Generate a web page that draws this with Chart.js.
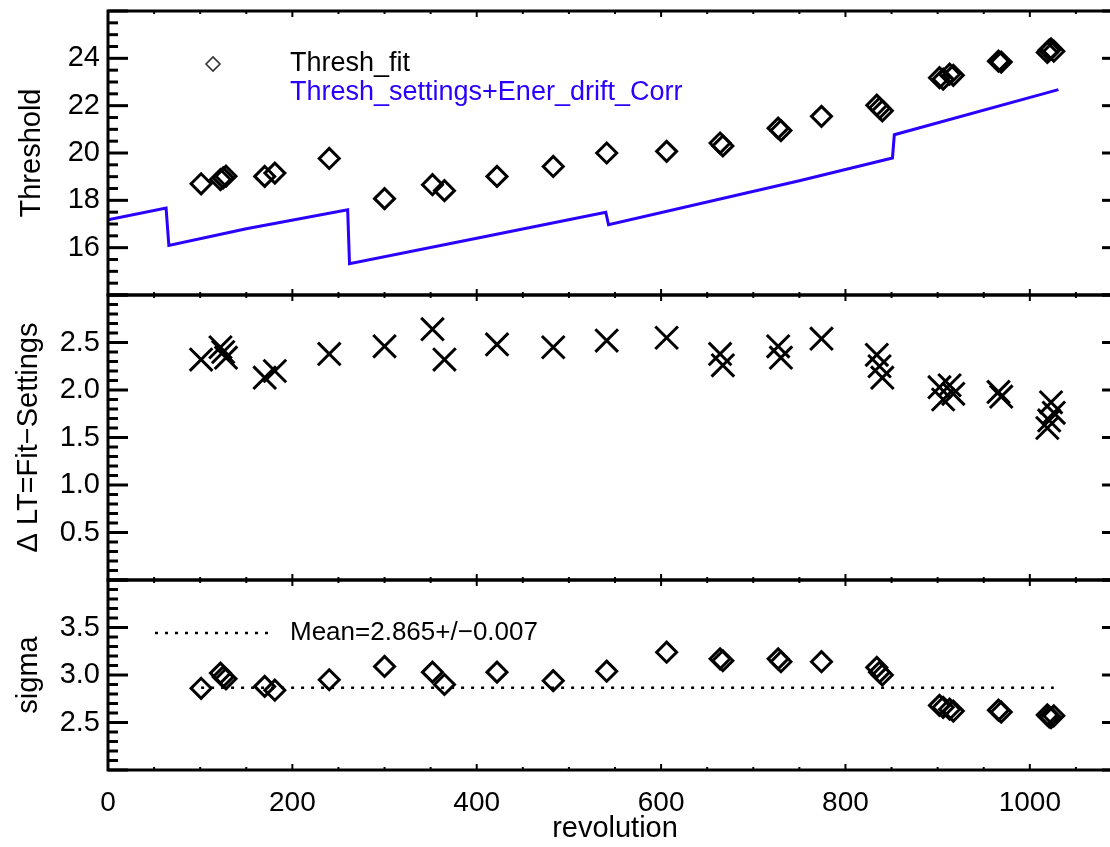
<!DOCTYPE html>
<html><head><meta charset="utf-8">
<script src="https://cdn.jsdelivr.net/npm/chart.js@4/dist/chart.umd.min.js"></script>
<style>
html,body{margin:0;padding:0;background:#fff;overflow:hidden;width:1110px;height:847px}
canvas{position:absolute;left:0}
</style></head><body>
<canvas id="c1" width="1130" height="300" style="top:0px"></canvas>
<canvas id="c2" width="1130" height="300" style="top:290px"></canvas>
<canvas id="c3" width="1130" height="272" style="top:575px"></canvas>
<script>
// ---- data ----
const revolution = [101,122,125,128,170,181,240,300,352,365,422,483,541,606,664,667,727,730,774,834,837,840,902,906,913,917,966,969,1019,1021,1023,1026];
const threshFit  = [18.70,18.88,18.95,19.02,19.01,19.15,19.77,18.07,18.66,18.41,19.01,19.43,20.00,20.07,20.42,20.30,21.05,20.95,21.55,22.02,21.90,21.78,23.18,23.12,23.33,23.28,23.88,23.84,24.25,24.35,24.40,24.30];
const deltaLT    = [2.32,2.45,2.40,2.34,2.13,2.20,2.38,2.46,2.64,2.32,2.48,2.45,2.52,2.55,2.38,2.26,2.46,2.34,2.54,2.37,2.25,2.13,2.03,1.90,2.05,1.96,1.98,1.93,1.60,1.68,1.87,1.76];
const sigmaVals  = [2.86,3.02,2.98,2.96,2.88,2.84,2.95,3.09,3.03,2.90,3.03,2.94,3.04,3.24,3.17,3.15,3.17,3.14,3.14,3.08,3.03,3.00,2.68,2.66,2.64,2.62,2.63,2.61,2.58,2.56,2.55,2.57];
const settingsRev    = [0,63,66,150,260,262,400,540,543,750,851,853,1031];
const settingsThresh = [17.18,17.67,16.09,16.80,17.60,15.32,16.40,17.50,16.97,18.83,19.79,20.77,22.68];
const sigmaMean = 2.865;
const sigmaMeanErr = 0.007;
const xTicks = [0,200,400,600,800,1000];
const thresholdTicks = [16,18,20,22,24];
const deltaTicks = [0.5,1.0,1.5,2.0,2.5];
const sigmaTicks = [2.5,3.0,3.5];
const legendLabels = ['Thresh_fit','Thresh_settings+Ener_drift_Corr'];
const meanLabel = 'Mean=' + sigmaMean.toFixed(3) + '+/\u2212' + sigmaMeanErr.toFixed(3);

const FONT = "'Liberation Sans', Arial, Helvetica, sans-serif";
const BLUE = '#2a00ff';
Chart.defaults.font.family = FONT;
Chart.defaults.color = '#000';

const pts = (xs, ys) => xs.map((x, i) => ({x, y: ys[i]}));

// frame + inward ticks plugin
const framePlugin = {
  id: 'frame',
  afterDatasetsDraw(chart, args, o) {
    const {ctx, chartArea: a, scales: {x, y}} = chart;
    ctx.save();
    ctx.strokeStyle = '#000';
    ctx.lineCap = 'butt';
    const seg = (x1, y1, x2, y2) => { ctx.beginPath(); ctx.moveTo(x1, y1); ctx.lineTo(x2, y2); ctx.stroke(); };
    ctx.lineWidth = 3;
    const yMinorN = Math.round((y.max - y.min) / o.yMinor);
    for (let i = 0; i <= yMinorN; i++) {
      const v = y.min + i * o.yMinor;
      const isMajor = Math.abs(v / o.yMajor - Math.round(v / o.yMajor)) < 1e-6;
      const len = isMajor ? 20 : 10;
      const p = y.getPixelForValue(v);
      seg(a.left, p, a.left + len, p);
      seg(a.right, p, a.right - len, p);
    }
    ctx.lineWidth = 2;
    const xMinorN = Math.round((x.max - x.min) / 50);
    for (let i = 0; i <= xMinorN; i++) {
      const v = x.min + i * 50;
      const len = (v % 200 === 0) ? 6 : 3;
      const p = x.getPixelForValue(v);
      seg(p, a.top, p, a.top + len);
      seg(p, a.bottom, p, a.bottom - len);
    }
    ctx.lineWidth = 3;
    ctx.strokeRect(a.left, a.top, a.right - a.left, a.bottom - a.top);
    ctx.restore();
  }
};

const legendPlugin = {
  id: 'customLegend',
  afterDraw(chart, args, o) {
    if (!o.items) return;
    const ctx = chart.ctx;
    ctx.save();
    o.items.forEach(it => {
      if (it.marker === 'diamond') {
        ctx.strokeStyle = '#333'; ctx.fillStyle = 'rgba(0,0,0,0)'; ctx.lineWidth = 1.6;
        Chart.helpers.drawPoint(ctx, {pointStyle: 'rectRot', radius: 7, borderWidth: 1.6}, it.mx, it.y);
      } else if (it.marker === 'dots') {
        ctx.strokeStyle = '#000'; ctx.lineWidth = 2.5; ctx.setLineDash([3, 7]);
        ctx.beginPath(); ctx.moveTo(it.mx, it.y); ctx.lineTo(it.mx2, it.y); ctx.stroke();
        ctx.setLineDash([]);
      }
      ctx.fillStyle = it.color;
      ctx.font = it.size + 'px ' + FONT;
      ctx.textBaseline = 'middle';
      ctx.textAlign = 'left';
      ctx.fillText(it.text, it.tx, it.y);
    });
    ctx.restore();
  }
};

function yAxis(min, max, ticksArr, title, fmt, titlePad, titleSize) {
  return {
    type: 'linear', min, max, position: 'left',
    afterBuildTicks: s => { s.ticks = ticksArr.map(v => ({value: v})); },
    afterFit: s => { s.width = 108; s.paddingTop = 0; s.paddingBottom = 0; },
    grid: {display: false, drawTicks: false},
    border: {display: false},
    ticks: {padding: 8, font: {size: 29}, color: '#000', callback: fmt},
    title: {display: true, text: title, font: {size: titleSize}, color: '#000', padding: {top: titlePad, bottom: 0}}
  };
}

function xAxis(show) {
  return {
    type: 'linear', min: 0, max: 1100, position: 'bottom', display: show,
    afterBuildTicks: s => { s.ticks = xTicks.map(v => ({value: v})); },
    afterFit: s => { if (show) s.height = 77; s.paddingLeft = 0; s.paddingRight = 0; },
    grid: {display: false, drawTicks: false},
    border: {display: false},
    ticks: {padding: 16, font: {size: 28}, color: '#000', maxRotation: 0, autoSkip: false, callback: v => String(v)},
    title: {display: show, text: 'revolution', font: {size: 29}, color: '#000', padding: {top: 0, bottom: 1}}
  };
}

function baseOptions(padding, xs, ys, frameOpts, legendOpts) {
  return {
    responsive: false, animation: false, devicePixelRatio: 1,
    layout: {padding, autoPadding: false},
    scales: {x: xs, y: ys},
    plugins: {legend: {display: false}, tooltip: {enabled: false}, frame: frameOpts, customLegend: legendOpts || {}},
    elements: {line: {tension: 0}}
  };
}

// Panel 1: Threshold
new Chart(document.getElementById('c1'), {
  type: 'scatter',
  data: {datasets: [
    {label: legendLabels[1], data: pts(settingsRev, settingsThresh), showLine: true, borderColor: BLUE, borderWidth: 3, pointRadius: 0, fill: false},
    {label: legendLabels[0], data: pts(revolution, threshFit), pointStyle: 'rectRot', pointRadius: 10, borderColor: '#000', borderWidth: 3, backgroundColor: 'rgba(0,0,0,0)'}
  ]},
  options: baseOptions({top: 11, bottom: 5, left: 0, right: 8}, xAxis(false),
    yAxis(14, 26, thresholdTicks, 'Threshold', v => String(v), 15, 29),
    {yMajor: 2, yMinor: 0.5},
    {items: [
      {marker: 'diamond', mx: 213, y: 64, tx: 290, text: legendLabels[0], color: '#000', size: 27},
      {marker: null, y: 93, tx: 290, text: legendLabels[1], color: BLUE, size: 27}
    ]}),
  plugins: [framePlugin, legendPlugin]
});

// Panel 2: Delta LT
new Chart(document.getElementById('c2'), {
  type: 'scatter',
  data: {datasets: [
    {label: 'Fit-Settings', data: pts(revolution, deltaLT), pointStyle: 'crossRot', pointRadius: 16, borderColor: '#000', borderWidth: 3}
  ]},
  options: baseOptions({top: 5, bottom: 10, left: 0, right: 8}, xAxis(false),
    yAxis(0, 3, deltaTicks, '\u0394 LT=Fit\u2212Settings', v => v.toFixed(1), 12, 29),
    {yMajor: 0.5, yMinor: 0.1}),
  plugins: [framePlugin, legendPlugin]
});

// Panel 3: sigma
new Chart(document.getElementById('c3'), {
  type: 'scatter',
  data: {datasets: [
    {label: 'Mean', data: [{x: revolution[0], y: sigmaMean}, {x: revolution[revolution.length - 1], y: sigmaMean}], showLine: true, borderColor: '#000', borderWidth: 2.5, borderDash: [3, 7], pointRadius: 0, fill: false},
    {label: 'sigma', data: pts(revolution, sigmaVals), pointStyle: 'rectRot', pointRadius: 10, borderColor: '#000', borderWidth: 3, backgroundColor: 'rgba(0,0,0,0)'}
  ]},
  options: baseOptions({top: 5, bottom: 0, left: 0, right: 8}, xAxis(true),
    yAxis(2, 4, sigmaTicks, 'sigma', v => v.toFixed(1), 12, 29),
    {yMajor: 0.5, yMinor: 0.1},
    {items: [
      {marker: 'dots', mx: 155, mx2: 270, y: 58, tx: 290, text: meanLabel, color: '#000', size: 26}
    ]}),
  plugins: [framePlugin, legendPlugin]
});
</script>
</body></html>
